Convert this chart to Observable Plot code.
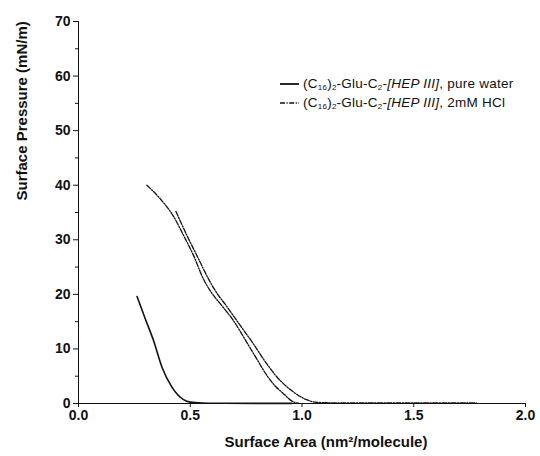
<!DOCTYPE html>
<html>
<head>
<meta charset="utf-8">
<script src="https://cdn.jsdelivr.net/npm/d3@7"></script>
<script src="https://cdn.jsdelivr.net/npm/@observablehq/plot@0.6"></script>
<style>
  html, body { margin: 0; padding: 0; background: #fff; }
  #wrap { position: relative; width: 540px; height: 456px; font-family: "Liberation Sans", Arial, sans-serif; }
  #legend { position: absolute; left: 280px; top: 74px; font-size: 13.5px; letter-spacing: 0.25px; color: #111; line-height: 19px; }
  #legend .row { display: flex; align-items: center; white-space: nowrap; height: 19px; }
  #legend svg { margin-right: 4px; }
  #legend sub { font-size: 8px; vertical-align: -2px; line-height: 0; }
</style>
</head>
<body>
<div id="wrap"><div id="legend"></div></div>
<script>
// Pure water isotherm
const waterX = [0.262, 0.299, 0.336, 0.374, 0.418, 0.47, 0.50, 0.55, 0.65, 0.80, 0.955];
const waterY = [19.6, 15.5, 11.5, 6.6, 3.0, 0.7, 0.25, 0.1, 0.05, 0.02, 0.02];
// 2mM HCl, first trace
const hcl1X = [0.306, 0.366, 0.425, 0.470, 0.515, 0.559, 0.604, 0.634, 0.693, 0.753, 0.80, 0.845, 0.88, 0.917, 0.961, 0.985];
const hcl1Y = [40.0, 37.5, 34.3, 30.8, 27.1, 22.8, 19.8, 18.3, 15.2, 11.2, 8.0, 5.0, 3.2, 1.8, 0.3, 0.05];
// 2mM HCl, second trace
const hcl2X = [0.436, 0.485, 0.53, 0.582, 0.626, 0.656, 0.708, 0.783, 0.842, 0.887, 0.946, 1.02, 1.066, 1.2, 1.4, 1.6, 1.78];
const hcl2Y = [35.2, 30.8, 27.1, 22.8, 19.8, 18.2, 15.2, 10.9, 7.3, 4.9, 2.6, 0.7, 0.2, 0.1, 0.1, 0.1, 0.1];

const xTicks = [0, 0.5, 1.0, 1.5, 2.0];
const yTicks = [0, 10, 20, 30, 40, 50, 60, 70];
const yMinor = [5, 15, 25, 35, 45, 55, 65];
const legendLabels = [
  '(C<sub>16</sub>)<sub>2</sub>-Glu-C<sub>2</sub>-<i>[HEP III]</i>, pure water',
  '(C<sub>16</sub>)<sub>2</sub>-Glu-C<sub>2</sub>-<i>[HEP III]</i>, 2mM HCl'
];
const xLabel = "Surface Area (nm²/molecule)";
const yLabel = "Surface Pressure (mN/m)";

const water = d3.zip(waterX, waterY);
const hcl1 = d3.zip(hcl1X, hcl1Y);
const hcl2 = d3.zip(hcl2X, hcl2Y);
const dash = "5,1.5,1.2,1.5";

const chart = Plot.plot({
  width: 540,
  height: 456,
  marginLeft: 78,
  marginRight: 15,
  marginTop: 21,
  marginBottom: 53,
  style: { fontFamily: '"Liberation Sans", Arial, sans-serif', fontSize: "14px", color: "#111", background: "#fff" },
  x: { domain: [0, 2] },
  y: { domain: [0, 70] },
  marks: [
    Plot.axisY({ ticks: yTicks, tickSize: 5, tickPadding: 3, label: null, fontWeight: "bold" }),
    Plot.axisY({ ticks: yMinor, tickSize: 3, tickFormat: () => "", label: null }),
    Plot.axisX({ ticks: xTicks, tickSize: 4, tickPadding: 3, tickFormat: d3.format(".1f"), label: null, fontWeight: "bold" }),
    Plot.ruleX([0], { stroke: "#111" }),
    Plot.ruleY([0], { stroke: "#111" }),
    Plot.line(water, { x: d => d[0], y: d => d[1], stroke: "#111", strokeWidth: 1.6, curve: "monotone-x" }),
    Plot.line(hcl1, { x: d => d[0], y: d => d[1], stroke: "#111", strokeWidth: 1.3, strokeDasharray: dash, curve: "monotone-x" }),
    Plot.line(hcl2, { x: d => d[0], y: d => d[1], stroke: "#111", strokeWidth: 1.3, strokeDasharray: dash, curve: "monotone-x" }),
    Plot.text([xLabel], { frameAnchor: "bottom", dx: 24, dy: 43, fontSize: 15, fontWeight: "bold" }),
    Plot.text([yLabel], { frameAnchor: "left", rotate: -90, dx: -56, dy: -12, fontSize: 15, fontWeight: "bold" })
  ]
});
const wrap = document.getElementById("wrap");
wrap.insertBefore(chart, wrap.firstChild);

const legend = document.getElementById("legend");
legendLabels.forEach((lab, i) => {
  const row = document.createElement("div");
  row.className = "row";
  const da = i === 0 ? "" : `stroke-dasharray="${dash}"`;
  row.innerHTML = `<svg width="19" height="6"><line x1="0" y1="3" x2="19" y2="3" stroke="#111" stroke-width="${i === 0 ? 1.8 : 1.3}" ${da}/></svg><span>${lab}</span>`;
  legend.appendChild(row);
});
</script>
</body>
</html>
